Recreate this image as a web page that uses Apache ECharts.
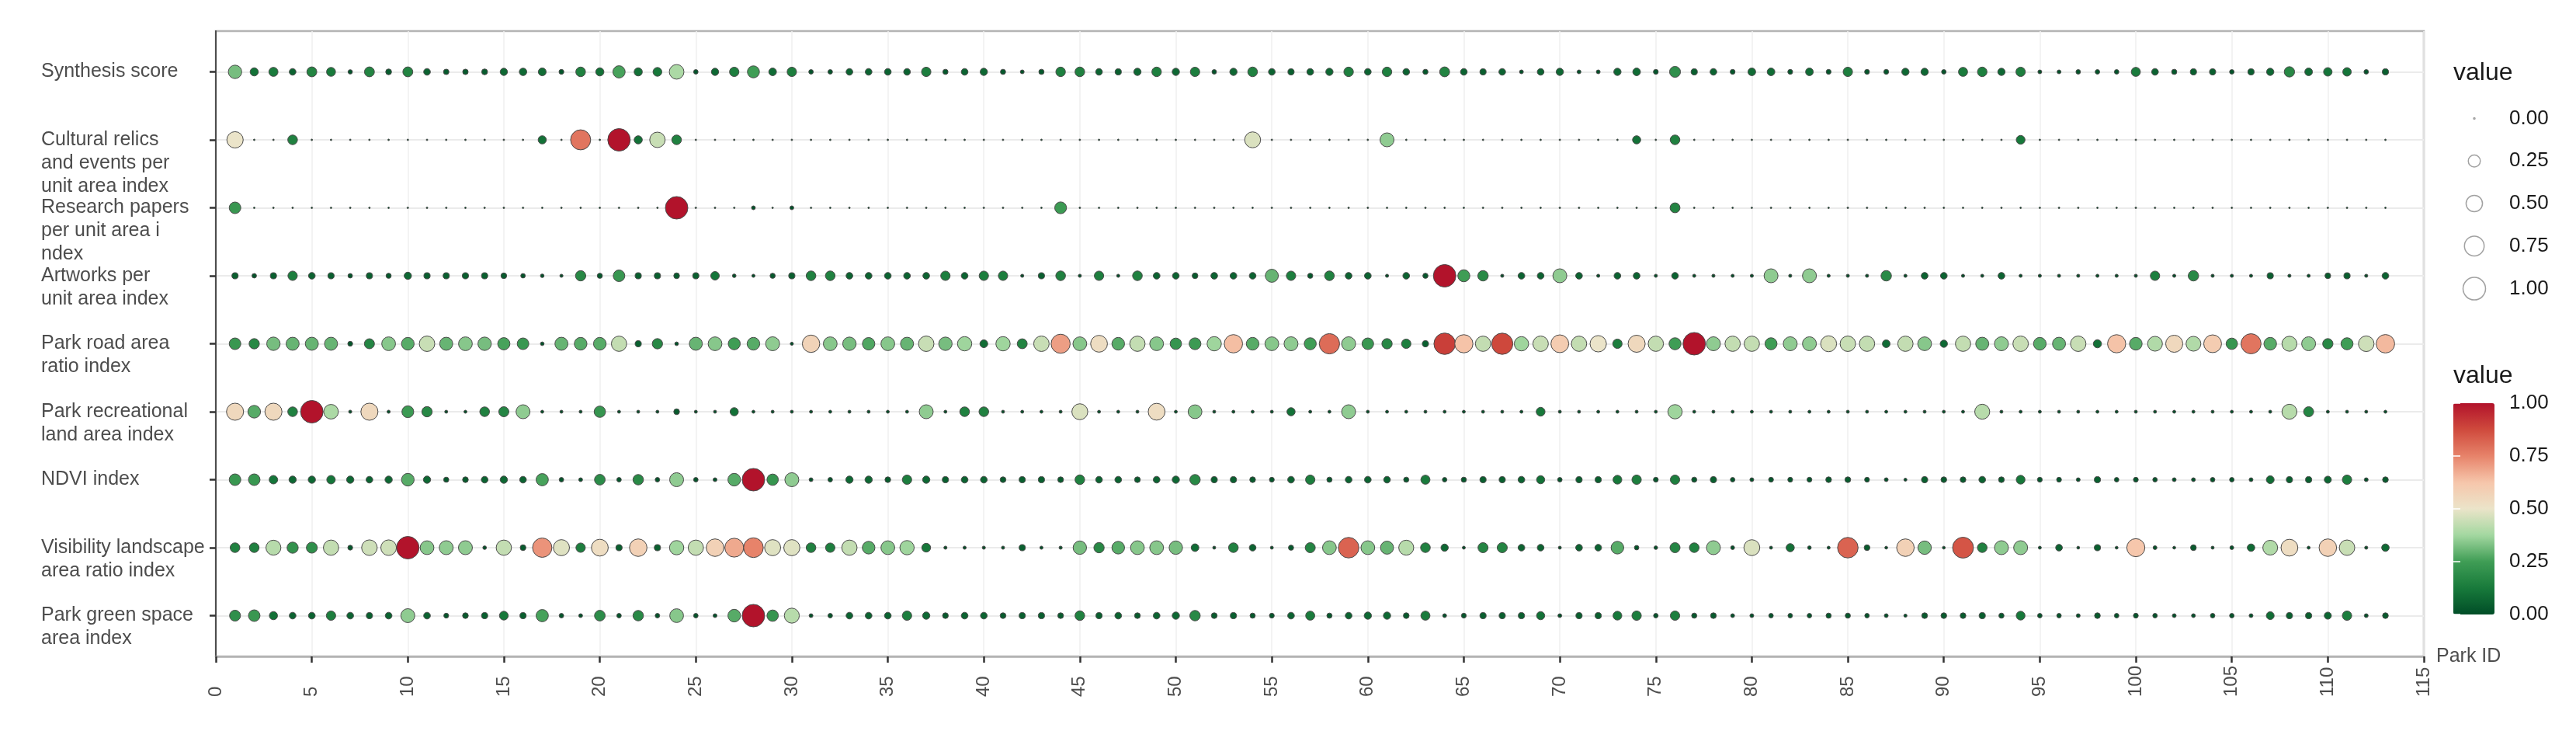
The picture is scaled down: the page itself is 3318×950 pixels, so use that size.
<!DOCTYPE html>
<html>
<head>
<meta charset="utf-8">
<title>Park indices</title>
<script src="https://cdn.jsdelivr.net/npm/echarts@6/dist/echarts.min.js"></script>
<style>
  html, body { margin: 0; padding: 0; background: #fff; }
  #chart { width: 3318px; height: 950px; }
</style>
</head>
<body>
<div id="chart"></div>
<script>
// row labels, top to bottom
const indexNames = [
  'Synthesis score',
  'Cultural relics\nand events per\nunit area index',
  'Research papers\nper unit area i\nndex',
  'Artworks per\nunit area index',
  'Park road area\nratio index',
  'Park recreational\nland area index',
  'NDVI index',
  'Visibility landscape\narea ratio index',
  'Park green space\narea index'
]

// one value per park, park 1 .. 113
const synthesis = [
  0.32, 0.1, 0.13, 0.06, 0.16, 0.125, 0.018, 0.16, 0.042, 0.16,
  0.06, 0.035, 0.035, 0.042, 0.075, 0.08, 0.09, 0.025, 0.15, 0.1,
  0.26, 0.1, 0.12, 0.39, 0.02, 0.075, 0.14, 0.25, 0.085, 0.14,
  0.02, 0.02, 0.06, 0.06, 0.06, 0.06, 0.14, 0.03, 0.06, 0.075,
  0.03, 0.012, 0.03, 0.145, 0.15, 0.06, 0.05, 0.075, 0.145, 0.075,
  0.14, 0.02, 0.075, 0.15, 0.06, 0.05, 0.06, 0.075, 0.145, 0.06,
  0.145, 0.06, 0.03, 0.16, 0.06, 0.05, 0.06, 0.012, 0.06, 0.075,
  0.012, 0.012, 0.075, 0.085, 0.025, 0.2, 0.05, 0.06, 0.025, 0.085,
  0.085, 0.025, 0.085, 0.025, 0.14, 0.025, 0.025, 0.075, 0.075, 0.02,
  0.13, 0.145, 0.075, 0.14, 0.012, 0.012, 0.02, 0.02, 0.02, 0.13,
  0.06, 0.03, 0.05, 0.05, 0.02, 0.05, 0.075, 0.175, 0.085, 0.11,
  0.11, 0.02, 0.05
]
const cultural = [
  0.5, 0, 0, 0.15, 0, 0, 0, 0, 0, 0,
  0, 0, 0, 0, 0, 0, 0.1, 0, 0.78, 0,
  1.0, 0.1, 0.44, 0.15, 0, 0, 0, 0, 0, 0,
  0, 0, 0, 0, 0, 0, 0, 0, 0, 0,
  0, 0, 0, 0, 0, 0, 0, 0, 0, 0,
  0, 0, 0, 0.47, 0, 0, 0, 0, 0, 0,
  0.35, 0, 0, 0, 0, 0, 0, 0, 0, 0,
  0, 0, 0, 0.1, 0, 0.15, 0, 0, 0, 0,
  0, 0, 0, 0, 0, 0, 0, 0, 0, 0,
  0, 0, 0, 0.12, 0, 0, 0, 0, 0, 0,
  0, 0, 0, 0, 0, 0, 0, 0, 0, 0,
  0, 0, 0
]
const research = [
  0.23, 0, 0, 0, 0, 0, 0, 0, 0, 0,
  0, 0, 0, 0, 0, 0, 0, 0, 0, 0,
  0, 0, 0, 1.0, 0, 0, 0, 0.012, 0, 0.012,
  0, 0, 0, 0, 0, 0, 0, 0, 0, 0,
  0, 0, 0, 0.24, 0, 0, 0, 0, 0, 0,
  0, 0, 0, 0, 0, 0, 0, 0, 0, 0,
  0, 0, 0, 0, 0, 0, 0, 0, 0, 0,
  0, 0, 0, 0, 0, 0.16, 0, 0, 0, 0,
  0, 0, 0, 0, 0, 0, 0, 0, 0, 0,
  0, 0, 0, 0, 0, 0, 0, 0, 0, 0,
  0, 0, 0, 0, 0, 0, 0, 0, 0, 0,
  0, 0, 0
]
const artworks = [
  0.05, 0.02, 0.05, 0.14, 0.06, 0.05, 0.02, 0.05, 0.03, 0.075,
  0.05, 0.05, 0.05, 0.05, 0.04, 0.02, 0.01, 0.006, 0.175, 0.03,
  0.23, 0.05, 0.05, 0.04, 0.05, 0.11, 0.01, 0.006, 0.03, 0.05,
  0.15, 0.15, 0.06, 0.06, 0.06, 0.06, 0.06, 0.14, 0.06, 0.14,
  0.14, 0.006, 0.05, 0.15, 0.006, 0.14, 0.006, 0.15, 0.06, 0.06,
  0.04, 0.06, 0.06, 0.06, 0.3, 0.14, 0.03, 0.15, 0.06, 0.06,
  0.006, 0.06, 0.03, 1.0, 0.25, 0.18, 0.006, 0.06, 0.06, 0.35,
  0.06, 0.006, 0.06, 0.06, 0.006, 0.06, 0.006, 0.006, 0.006, 0.006,
  0.35, 0.006, 0.35, 0.006, 0.006, 0.006, 0.18, 0.006, 0.06, 0.06,
  0.006, 0.006, 0.06, 0.006, 0.006, 0.006, 0.006, 0.006, 0.006, 0.006,
  0.14, 0.006, 0.18, 0.006, 0.006, 0.006, 0.05, 0.006, 0.006, 0.04,
  0.05, 0.006, 0.06
]
const parkRoad = [
  0.23, 0.175, 0.32, 0.3, 0.3, 0.3, 0.025, 0.165, 0.34, 0.28,
  0.44, 0.3, 0.34, 0.32, 0.26, 0.23, 0.01, 0.3, 0.28, 0.28,
  0.43, 0.05, 0.175, 0.01, 0.3, 0.34, 0.25, 0.28, 0.35, 0.006,
  0.57, 0.34, 0.32, 0.27, 0.34, 0.3, 0.44, 0.32, 0.37, 0.09,
  0.37, 0.16, 0.44, 0.7, 0.34, 0.53, 0.28, 0.43, 0.34, 0.22,
  0.24, 0.37, 0.64, 0.28, 0.34, 0.35, 0.25, 0.8, 0.35, 0.23,
  0.175, 0.14, 0.05, 0.9, 0.63, 0.43, 0.88, 0.37, 0.44, 0.6,
  0.43, 0.5, 0.14, 0.55, 0.43, 0.25, 1.0, 0.35, 0.43, 0.43,
  0.25, 0.35, 0.35, 0.47, 0.44, 0.43, 0.085, 0.43, 0.34, 0.075,
  0.43, 0.3, 0.35, 0.44, 0.28, 0.3, 0.44, 0.1, 0.63, 0.28,
  0.4, 0.55, 0.4, 0.6, 0.22, 0.78, 0.28, 0.41, 0.35, 0.175,
  0.25, 0.45, 0.65
]
const parkRecreational = [
  0.55, 0.28, 0.55, 0.15, 1.0, 0.39, 0.006, 0.55, 0.006, 0.24,
  0.175, 0.005, 0.005, 0.15, 0.165, 0.35, 0.005, 0.005, 0.005, 0.22,
  0.005, 0.005, 0.005, 0.04, 0.005, 0.005, 0.1, 0.005, 0.005, 0.005,
  0.005, 0.005, 0.005, 0.005, 0.005, 0.005, 0.35, 0.005, 0.15, 0.15,
  0.005, 0.005, 0.005, 0.005, 0.47, 0.005, 0.005, 0.005, 0.53, 0.005,
  0.34, 0.005, 0.005, 0.005, 0.005, 0.1, 0.005, 0.005, 0.35, 0.005,
  0.005, 0.005, 0.005, 0.005, 0.005, 0.005, 0.005, 0.005, 0.12, 0.005,
  0.005, 0.005, 0.005, 0.005, 0.005, 0.37, 0.005, 0.005, 0.005, 0.005,
  0.005, 0.005, 0.005, 0.005, 0.005, 0.005, 0.005, 0.005, 0.005, 0.005,
  0.005, 0.41, 0.005, 0.005, 0.005, 0.005, 0.005, 0.005, 0.005, 0.005,
  0.005, 0.005, 0.005, 0.005, 0.005, 0.005, 0.005, 0.41, 0.165, 0.005,
  0.005, 0.005, 0.005
]
const ndvi = [
  0.23, 0.23, 0.11, 0.075, 0.075, 0.11, 0.075, 0.06, 0.075, 0.28,
  0.075, 0.03, 0.04, 0.06, 0.075, 0.06, 0.26, 0.02, 0.012, 0.19,
  0.02, 0.18, 0.02, 0.35, 0.02, 0.012, 0.28, 1.0, 0.22, 0.35,
  0.012, 0.02, 0.075, 0.075, 0.04, 0.14, 0.075, 0.05, 0.06, 0.06,
  0.04, 0.05, 0.05, 0.04, 0.15, 0.06, 0.06, 0.04, 0.06, 0.075,
  0.18, 0.05, 0.05, 0.04, 0.025, 0.06, 0.14, 0.03, 0.06, 0.06,
  0.06, 0.03, 0.13, 0.02, 0.03, 0.05, 0.05, 0.06, 0.1, 0.02,
  0.05, 0.05, 0.12, 0.14, 0.025, 0.14, 0.03, 0.05, 0.02, 0.012,
  0.025, 0.025, 0.025, 0.04, 0.04, 0.025, 0.012, 0.005, 0.05, 0.04,
  0.04, 0.06, 0.04, 0.12, 0.025, 0.025, 0.012, 0.05, 0.02, 0.025,
  0.02, 0.012, 0.012, 0.02, 0.02, 0.012, 0.09, 0.05, 0.05, 0.07,
  0.14, 0.012, 0.04
]
const visibility = [
  0.15, 0.15, 0.41, 0.21, 0.2, 0.43, 0.025, 0.45, 0.45, 1.0,
  0.34, 0.35, 0.35, 0.01, 0.43, 0.04, 0.72, 0.48, 0.14, 0.53,
  0.05, 0.58, 0.05, 0.37, 0.43, 0.58, 0.68, 0.75, 0.48, 0.48,
  0.15, 0.14, 0.43, 0.28, 0.34, 0.37, 0.12, 0.006, 0.006, 0.006,
  0.006, 0.05, 0.006, 0.006, 0.32, 0.175, 0.28, 0.34, 0.34, 0.32,
  0.085, 0.005, 0.15, 0.06, 0.005, 0.03, 0.165, 0.34, 0.82, 0.34,
  0.3, 0.41, 0.15, 0.075, 0.005, 0.165, 0.165, 0.06, 0.06, 0.005,
  0.06, 0.06, 0.28, 0.02, 0.01, 0.165, 0.15, 0.35, 0.012, 0.47,
  0.005, 0.1, 0.01, 0.005, 0.82, 0.04, 0.004, 0.58, 0.32, 0.004,
  0.85, 0.15, 0.35, 0.35, 0.005, 0.06, 0.004, 0.05, 0.004, 0.62,
  0.012, 0.004, 0.04, 0.005, 0.012, 0.08, 0.4, 0.53, 0.005, 0.58,
  0.44, 0.006, 0.08
]
const parkGreen = [
  0.2, 0.23, 0.1, 0.06, 0.06, 0.14, 0.06, 0.05, 0.06, 0.35,
  0.06, 0.025, 0.04, 0.05, 0.12, 0.05, 0.26, 0.02, 0.012, 0.19,
  0.02, 0.18, 0.02, 0.34, 0.02, 0.012, 0.28, 1.0, 0.22, 0.41,
  0.012, 0.02, 0.06, 0.06, 0.06, 0.14, 0.075, 0.04, 0.06, 0.06,
  0.04, 0.05, 0.05, 0.04, 0.15, 0.05, 0.06, 0.04, 0.06, 0.075,
  0.18, 0.04, 0.05, 0.03, 0.025, 0.06, 0.13, 0.03, 0.06, 0.075,
  0.075, 0.04, 0.13, 0.012, 0.025, 0.05, 0.05, 0.05, 0.1, 0.012,
  0.05, 0.05, 0.12, 0.14, 0.02, 0.14, 0.03, 0.04, 0.012, 0.012,
  0.02, 0.02, 0.02, 0.03, 0.03, 0.02, 0.012, 0.006, 0.04, 0.04,
  0.04, 0.05, 0.03, 0.12, 0.02, 0.02, 0.012, 0.04, 0.02, 0.025,
  0.02, 0.012, 0.012, 0.02, 0.02, 0.012, 0.09, 0.05, 0.05, 0.07,
  0.14, 0.012, 0.04
]

const sizeLegendValues = [0, 0.25, 0.5, 0.75, 1]
const colorStops = ['#004d27', '#187a3b', '#3f9d55', '#a3d7a0', '#ebe4c9', '#f6c6ab', '#e7836a', '#cf4a3d', '#b2132b']

const rows = [synthesis, cultural, research, artworks, parkRoad, parkRecreational, ndvi, visibility, parkGreen]
const rowIdx = rows.map((r, i) => i)

let points = []
rows.forEach((vals, r) => {
  vals.forEach((v, i) => points.push([i + 1, r, v]))
})

const font = 'Liberation Sans, Arial, sans-serif'
const sizeOf = v => 2 + 27 * Math.sqrt(v)

// the panel keeps 0.6 of a row free above the first and below the last row
const panelTop = 40
const panelHeight = 805
const rowStep = panelHeight / 9.2

let chart = echarts.init(document.getElementById('chart'))
chart.setOption({
  animation: false,
  backgroundColor: '#fff',
  textStyle: { fontFamily: font },
  grid: [
    { left: 278, top: panelTop, width: 2844, height: panelHeight, show: true, borderColor: '#b4b4b4', borderWidth: 2.5 },
    { left: 3160, top: 125, width: 54, height: 274 },
    { left: 3160, top: 519, width: 53, height: 272 },
    // label band: one category per row, centred on the rows of the panel
    { left: 278, top: panelTop + 0.1 * rowStep, width: 2844, height: 9 * rowStep }
  ],
  xAxis: [
    {
      gridIndex: 0,
      type: 'value',
      min: 0,
      max: 115,
      interval: 5,
      name: 'Park ID',
      nameLocation: 'end',
      nameGap: 16,
      nameTextStyle: { fontSize: 25, color: '#4d4d4d', fontFamily: font },
      axisLine: { onZero: false, lineStyle: { color: '#b4b4b4', width: 2.5 } },
      axisTick: { length: 8, lineStyle: { color: '#333', width: 2.5 } },
      axisLabel: { rotate: 90, align: 'left', verticalAlign: 'middle', margin: 52, fontSize: 24, color: '#4d4d4d', fontFamily: font, showMinLabel: true, showMaxLabel: true },
      splitLine: { show: true, lineStyle: { color: '#efefef', width: 1.5 } }
    },
    { gridIndex: 1, type: 'value', min: -1, max: 1, show: false },
    { gridIndex: 2, type: 'value', min: 0, max: 1, show: false },
    { gridIndex: 3, type: 'value', min: 0, max: 115, show: false }
  ],
  yAxis: [
    {
      gridIndex: 0,
      type: 'value',
      min: -0.6,
      max: 8.6,
      inverse: true,
      axisLine: { show: true, onZero: false, lineStyle: { color: '#4d4d4d', width: 2 } },
      axisTick: { show: true, customValues: rowIdx, length: 8, lineStyle: { color: '#333', width: 2.5 } },
      axisLabel: { show: false, customValues: rowIdx },
      splitLine: { show: true, lineStyle: { color: '#ebebeb', width: 2 } }
    },
    {
      gridIndex: 1,
      type: 'category',
      data: sizeLegendValues.map(v => v.toFixed(2)),
      inverse: true,
      position: 'right',
      axisLine: { show: false },
      axisTick: { show: false },
      axisLabel: { margin: 18, fontSize: 26, color: '#1a1a1a', fontFamily: font }
    },
    {
      gridIndex: 2,
      type: 'value',
      min: 0,
      max: 1,
      interval: 0.25,
      position: 'right',
      z: 10,
      axisLine: { show: false },
      axisTick: { show: true, inside: true, length: 9, lineStyle: { color: '#fff', width: 1.5 } },
      axisLabel: { margin: 19, fontSize: 26, color: '#1a1a1a', fontFamily: font, formatter: v => v.toFixed(2) },
      splitLine: { show: false }
    },
    {
      gridIndex: 2,
      type: 'value',
      min: 0,
      max: 1,
      interval: 0.25,
      position: 'left',
      z: 10,
      axisLine: { show: false },
      axisTick: { show: true, inside: true, length: 9, lineStyle: { color: '#fff', width: 1.5 } },
      axisLabel: { show: false },
      splitLine: { show: false }
    },
    {
      gridIndex: 3,
      type: 'category',
      data: indexNames,
      inverse: true,
      axisLine: { show: false },
      axisTick: { show: false },
      splitLine: { show: false },
      axisLabel: {
        interval: 0,
        // first line sits on the row, the rest hangs below it
        formatter: function (name) {
          let lines = name.split('\n')
          return '\n'.repeat(lines.length - 1) + lines.join('\n')
        },
        align: 'left',
        margin: 225,
        fontSize: 25,
        lineHeight: 30,
        color: '#4d4d4d',
        fontFamily: font
      }
    }
  ],
  visualMap: {
    type: 'continuous',
    seriesIndex: 0,
    dimension: 2,
    min: 0,
    max: 1,
    calculable: false,
    realtime: false,
    left: 3160,
    top: 519,
    padding: 0,
    itemWidth: 53,
    itemHeight: 272,
    text: null,
    inRange: { color: colorStops }
  },
  graphic: [
    { type: 'text', left: 3160, top: 78, style: { text: 'value', fontSize: 32, fill: '#1a1a1a', fontFamily: font } },
    { type: 'text', left: 3160, top: 468, style: { text: 'value', fontSize: 32, fill: '#1a1a1a', fontFamily: font } }
  ],
  series: [
    {
      type: 'scatter',
      xAxisIndex: 0,
      yAxisIndex: 0,
      data: points,
      symbolSize: d => sizeOf(d[2]),
      itemStyle: { borderColor: '#4a4a4a', borderWidth: 1, opacity: 1 }
    },
    {
      type: 'scatter',
      xAxisIndex: 1,
      yAxisIndex: 1,
      data: sizeLegendValues.map((v, i) => [0, i, v]),
      symbolSize: d => sizeOf(d[2]),
      itemStyle: { color: 'rgba(255,255,255,0)', borderColor: '#8a8a8a', borderWidth: 1.5 }
    }
  ]
})
</script>
</body>
</html>
